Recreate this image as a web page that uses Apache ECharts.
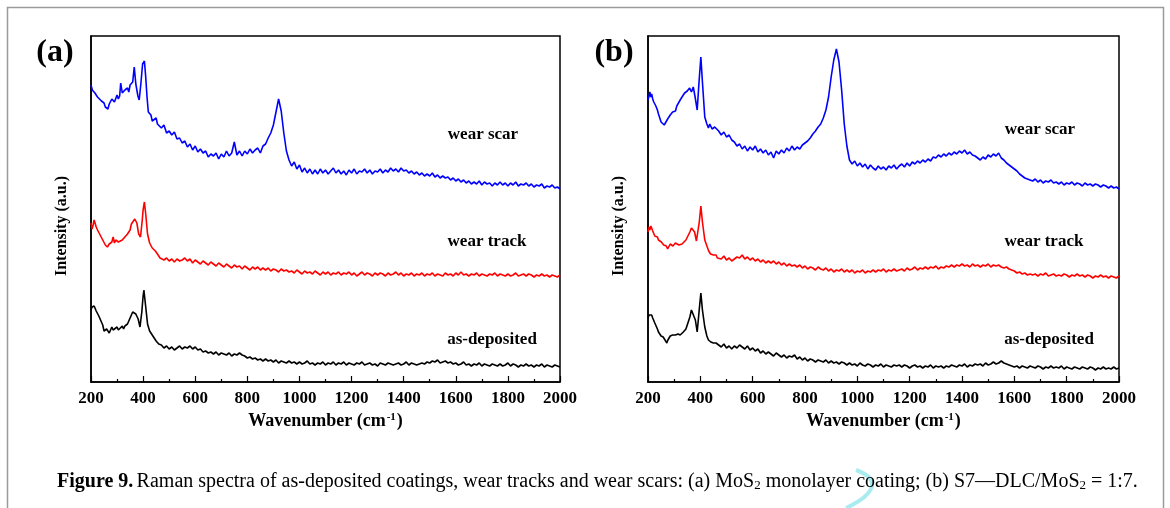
<!DOCTYPE html>
<html>
<head>
<meta charset="utf-8">
<script src="https://cdn.jsdelivr.net/npm/echarts@6/dist/echarts.min.js"></script>
<style>
html, body { margin: 0; padding: 0; background: #fff; }
#main { width: 1170px; height: 508px; }
</style>
</head>
<body>
<div id="main"></div>
<script>
// Raman spectra, wavenumber (cm-1) vs intensity (a.u., offset per curve)
var xTicks = [200, 400, 600, 800, 1000, 1200, 1400, 1600, 1800, 2000];

// low-wavenumber part (200-465 cm-1), [wavenumber, intensity]
var scarA_head = [[200,297],[205,292],[210,294],[215,289],[220,290],[225,285],[230,287],[240,281],[250,279],[255,275],[260,277],[265,273],[270,278],[280,283],[290,280],[300,287],[305,283],[310,286],[314,299],[320,289],[330,292],[340,294],[345,290],[350,297],[360,300],[366,315],[372,298],[380,286],[385,282],[392,300],[398,318],[405,321],[410,305],[415,285],[420,270],[430,267],[435,261],[440,263],[450,264],[455,258],[460,259]];
var trackA_head = [[200,159],[204,153],[208,157],[212,162],[216,160],[220,155],[225,152],[230,150],[237,146],[245,142],[255,137],[263,135],[270,138],[275,136],[280,140],[285,145],[290,139],[295,142],[300,143],[305,140],[310,141],[320,142],[330,145],[340,148],[350,152],[355,158],[360,160],[368,163],[376,159],[383,148],[390,145],[396,160],[400,172],[405,180],[410,168],[417,148],[425,139],[430,137],[435,134],[440,135],[447,131],[455,128],[460,126],[465,124]];
var depoA_head = [[200,72],[204,75],[208,73],[212,76],[216,74],[220,71],[225,70],[230,66],[235,64],[240,60],[245,57],[250,51],[256,49],[260,53],[265,52],[270,49],[275,51],[280,55],[285,52],[292,54],[300,55],[305,52],[310,54],[320,56],[325,53],[330,56],[340,58],[345,61],[350,64],[360,70],[366,72],[372,68],[381,63],[388,55],[395,70],[400,86],[403,92],[408,80],[417,58],[425,51],[432,49],[440,45],[445,44],[450,41],[454,40],[460,38],[465,36]];
var scarB_head = [[200,282],[204,286],[207,290],[211,285],[214,288],[218,283],[222,280],[230,276],[236,272],[240,268],[245,266],[250,260],[255,262],[262,257],[268,259],[275,263],[280,262],[285,267],[294,270],[300,272],[305,271],[310,276],[315,275],[323,282],[330,285],[340,289],[345,287],[350,291],[359,294],[366,290],[373,295],[380,285],[388,272],[395,300],[402,325],[408,300],[417,265],[425,258],[431,254],[436,258],[440,257],[445,253],[450,252],[455,255],[460,253]];
var trackB_head = [[200,150],[204,155],[207,152],[211,156],[214,154],[218,151],[222,150],[226,146],[230,147],[236,145],[240,142],[245,141],[251,140],[255,138],[260,137],[265,135],[270,136],[275,133],[280,135],[285,138],[290,139],[295,136],[300,137],[305,139],[310,138],[318,137],[323,139],[330,138],[335,140],[345,142],[352,144],[360,150],[366,154],[371,155],[378,150],[385,141],[390,143],[396,160],[402,176],[408,160],[417,142],[425,136],[432,131],[439,128],[445,129],[450,127],[455,126],[460,127],[465,124]];
var depoB_head = [[200,64],[204,67],[207,65],[211,68],[214,67],[218,64],[222,63],[226,59],[230,57],[236,53],[240,50],[245,48],[250,46],[258,45],[265,42],[272,39],[276,42],[280,43],[285,46],[290,44],[294,47],[300,45],[305,47],[310,46],[315,48],[323,47],[330,49],[335,50],[340,52],[345,53],[352,55],[360,65],[366,72],[372,70],[381,62],[388,50],[395,70],[402,89],[408,72],[417,55],[425,46],[431,42],[436,41],[440,40],[445,41],[450,39],[455,38],[460,39],[465,37]];

// 470-2000 cm-1, one reading every 10 cm-1
var tailStart = 470;
var tailStep = 10;
var scarA_tail = [254,257,249,251,247,250,243,244,239,241, 235,238,232,236,230,233,229,231,225,228, 226,229,223,228,225,231,226,229,240,227, 231,226,231,228,233,229,232,234,229,236, 238,244,249,257,270,283,271,249,231,222, 216,220,213,217,210,214,209,213,208,212, 208,213,209,212,208,211,214,209,212,208, 211,207,212,209,213,208,211,210,213,209, 212,208,211,210,213,209,212,210,214,211, 213,210,214,211,212,209,211,208,210,207, 209,206,208,206,209,205,207,204,206,204, 205,202,204,201,203,200,202,199,201,198, 200,198,201,197,200,198,199,196,199,197, 200,197,199,196,199,197,200,196,198,197, 199,196,198,195,197,196,198,194,196,195, 197,194,195,193];
var trackA_tail = [125,122,124,121,123,120,123,121,122,124, 121,123,119,122,120,118,121,119,117,120, 118,116,119,117,115,118,116,114,117,115, 116,113,116,114,112,115,113,115,112,114, 112,114,111,113,112,110,113,111,112,110, 111,109,112,110,108,111,109,110,108,111, 109,107,110,108,110,107,109,108,110,107, 109,108,110,107,109,106,108,110,107,109, 108,106,109,107,109,108,106,109,107,108, 110,107,109,106,108,107,109,106,108,107, 109,106,108,107,109,106,108,107,106,109, 107,108,106,109,107,110,107,108,106,108, 107,109,106,108,107,106,108,107,109,106, 108,107,106,108,106,107,109,106,107,108, 106,108,107,105,107,106,108,106,107,105, 107,106,105,107];
var depoA_tail = [37,34,36,33,35,32,34,36,33,35, 34,36,33,35,32,33,30,31,29,30, 28,30,27,29,28,27,29,26,28,27, 29,27,26,24,25,23,24,22,23,21, 23,21,22,20,22,19,21,20,19,21, 19,20,18,20,18,19,21,18,19,17, 19,18,20,17,19,18,20,17,19,18, 20,17,19,18,17,19,18,20,17,18, 19,17,18,16,19,18,17,19,18,17, 18,19,17,18,20,17,19,18,17,18, 19,18,20,19,21,20,22,19,20,21, 19,20,18,19,17,18,20,17,18,16, 18,17,19,16,18,17,16,18,17,16, 18,16,17,19,16,18,17,15,17,16, 18,16,17,15,17,16,18,15,17,16, 15,17,16,15];
var scarB_tail = [251,247,250,245,247,242,240,236,238,233, 236,231,235,232,236,230,233,229,232,227, 230,224,231,228,232,229,234,231,236,232, 235,233,237,239,241,244,248,251,255,258, 264,272,285,305,322,333,320,292,258,236, 222,218,221,216,219,215,218,213,217,214, 212,216,213,215,212,216,214,217,213,216, 218,215,219,216,220,218,221,219,222,220, 223,221,225,224,227,225,228,226,229,227, 230,228,231,229,232,228,230,227,226,224, 222,225,223,227,225,228,226,229,224,222, 219,217,215,213,211,208,206,204,203,202, 201,203,200,202,199,201,200,202,199,200, 198,200,197,199,198,200,197,199,198,196, 199,197,198,196,198,197,195,197,196,194, 196,194,195,193];
var trackB_tail = [125,123,126,122,124,121,123,125,124,127, 123,125,122,124,121,123,120,122,119,121, 119,121,118,120,117,119,116,118,116,117, 115,117,114,116,113,115,114,112,115,113, 112,114,111,113,110,112,111,113,110,112, 110,112,109,111,110,112,109,111,110,112, 110,112,111,113,110,112,111,113,111,112, 113,111,114,112,113,115,112,114,113,115, 113,115,114,116,113,115,114,116,115,117, 115,117,116,118,116,117,115,118,116,117, 115,117,116,118,115,117,116,117,115,114, 115,113,112,111,109,110,108,109,107,108, 107,108,106,108,107,109,106,107,108,106, 107,106,108,107,105,107,106,108,106,107, 105,107,106,104,106,105,107,105,106,104, 106,105,104,106];
var depoB_tail = [37,35,38,34,36,33,36,34,37,35, 33,36,32,34,31,33,29,31,28,30, 28,26,29,27,25,27,24,26,25,27, 23,25,22,24,21,23,22,20,22,21, 20,22,19,21,19,20,18,20,19,17, 19,17,18,16,19,17,16,18,17,15, 17,16,18,15,17,16,15,17,16,17, 15,17,16,14,16,17,15,16,14,16, 15,17,14,16,15,16,14,16,15,17, 16,15,17,16,18,15,17,16,18,17, 18,16,19,17,18,20,18,19,21,19, 18,17,16,15,16,14,16,15,14,16, 15,14,16,15,13,15,14,16,14,15, 14,16,13,15,14,13,15,14,13,15, 14,13,15,14,12,14,13,15,13,14, 13,15,13,14];

var serif = '"Liberation Serif", "Times New Roman", serif';

function joinSpectrum(head, tail) {
	var out = head.slice();
	for (var i = 0; i < tail.length; i++) {
		out.push([tailStart + i * tailStep, tail[i]]);
	}
	return out;
}

function xAxisCfg(idx) {
	return {
		type : 'value',
		gridIndex : idx,
		min : 200,
		max : 2000,
		interval : 200,
		name : '{n|Wavenumber (cm}{s|-1}{n|)}',
		nameLocation : 'middle',
		nameGap : 27,
		nameTextStyle : {
			rich : {
				n : { fontFamily : serif, fontWeight : 'bold', fontSize : 18, color : '#000' },
				s : { fontFamily : serif, fontWeight : 'bold', fontSize : 11, color : '#000', verticalAlign : 'top', padding : [0, 1, 8, 1] }
			}
		},
		axisLine : { show : true, lineStyle : { color : '#000', width : 1.5 } },
		axisTick : { show : true, inside : true, length : 6, lineStyle : { color : '#000', width : 1.2 } },
		minorTick : { show : true, splitNumber : 2, length : 3, lineStyle : { color : '#000', width : 1.2 } },
		axisLabel : {
			show : true,
			margin : 8,
			color : '#000',
			fontFamily : serif,
			fontWeight : 'bold',
			fontSize : 17,
			formatter : function (v) { return String(v); }
		},
		splitLine : { show : false }
	};
}

function yAxisCfg(idx) {
	return {
		type : 'value',
		gridIndex : idx,
		min : 0,
		max : 346,
		name : 'Intensity (a.u.)',
		nameLocation : 'middle',
		nameGap : 21,
		nameTextStyle : {
			fontFamily : serif,
			fontWeight : 'bold',
			fontSize : 16,
			color : '#000',
			padding : [0, 34, 0, 0]
		},
		axisLine : { show : true, lineStyle : { color : '#000', width : 1.5 } },
		axisTick : { show : false },
		axisLabel : { show : false },
		splitLine : { show : false }
	};
}

function spectrum(data, color, idx) {
	return {
		type : 'line',
		xAxisIndex : idx,
		yAxisIndex : idx,
		data : data,
		showSymbol : false,
		symbol : 'none',
		lineStyle : { color : color, width : 1.6 },
		silent : true
	};
}

function tag(text, x, y) {
	return {
		type : 'text',
		x : x,
		y : y,
		style : {
			text : text,
			font : 'bold 17px ' + serif,
			fill : '#000',
			textAlign : 'center',
			textVerticalAlign : 'middle'
		}
	};
}

var chart = echarts.init(document.getElementById('main'));
var option = {
	animation : false,
	backgroundColor : '#fff',
	grid : [
		{ left : 91, right : 610, top : 36, bottom : 126, show : true, borderColor : '#000', borderWidth : 1.5 },
		{ left : 648, right : 51, top : 36, bottom : 126, show : true, borderColor : '#000', borderWidth : 1.5 }
	],
	xAxis : [ xAxisCfg(0), xAxisCfg(1) ],
	yAxis : [ yAxisCfg(0), yAxisCfg(1) ],
	series : [
		spectrum(joinSpectrum(scarA_head, scarA_tail), '#0000ff', 0),
		spectrum(joinSpectrum(trackA_head, trackA_tail), '#ff0000', 0),
		spectrum(joinSpectrum(depoA_head, depoA_tail), '#000000', 0),
		spectrum(joinSpectrum(scarB_head, scarB_tail), '#0000ff', 1),
		spectrum(joinSpectrum(trackB_head, trackB_tail), '#ff0000', 1),
		spectrum(joinSpectrum(depoB_head, depoB_tail), '#000000', 1)
	],
	graphic : {
		elements : [
			{
				type : 'rect',
				shape : { x : 7.5, y : 7.5, width : 1156, height : 520 },
				style : { fill : null, stroke : '#9a9a9a', lineWidth : 1.5 },
				silent : true
			},
			{
				// faint cyan mark over the caption
				type : 'bezierCurve',
				shape : { x1 : 856, y1 : 470, x2 : 846, y2 : 508, cpx1 : 884, cpy1 : 480, cpx2 : 872, cpy2 : 496 },
				style : { stroke : '#a8ecf2', lineWidth : 4, fill : null },
				silent : true
			},
			{
				type : 'text', x : 55, y : 53,
				style : { text : '(a)', font : 'bold 32px ' + serif, fill : '#000', textAlign : 'center', textVerticalAlign : 'middle' }
			},
			{
				type : 'text', x : 614, y : 53,
				style : { text : '(b)', font : 'bold 32px ' + serif, fill : '#000', textAlign : 'center', textVerticalAlign : 'middle' }
			},
			tag('wear scar', 483, 135),
			tag('wear track', 487, 242),
			tag('as-deposited', 492, 340),
			tag('wear scar', 1040, 130),
			tag('wear track', 1044, 242),
			tag('as-deposited', 1049, 340),
			{
				type : 'text', x : 57, y : 482,
				style : {
					text : '{b|Figure 9.} {r|Raman spectra of as-deposited coatings, wear tracks and wear scars: (a) MoS}{s|2}{r| monolayer coating; (b) S7—DLC/MoS}{s|2}{r| = 1:7.}',
					textVerticalAlign : 'middle',
					rich : {
						b : { fontFamily : serif, fontWeight : 'bold', fontSize : 20, fill : '#000' },
						r : { fontFamily : serif, fontSize : 20, fill : '#000' },
						s : { fontFamily : serif, fontSize : 13, fill : '#000', verticalAlign : 'bottom', padding : [7, 0, 0, 0] }
					}
				}
			}
		]
	}
};
chart.setOption(option);
</script>
</body>
</html>
